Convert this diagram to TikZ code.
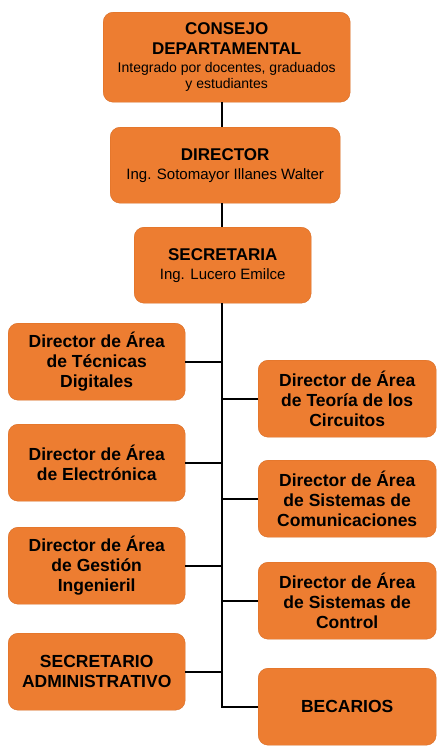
\documentclass[tikz,border=0pt]{standalone}
\usepackage{fontspec}
\setmainfont{Liberation Sans}
\usepackage{tikz}
\usetikzlibrary{calc,positioning}
\usepackage{xcolor}
\definecolor{bg0}{HTML}{FFFFFF}
\definecolor{boxfill}{HTML}{ED7D31}
\definecolor{boxline}{HTML}{D86C24}
\definecolor{fg}{HTML}{000000}
\newcommand{\branch}[2]{
  \draw[link] (#1.#2) -- (#1.#2 -| trunk-end);
}
\newcommand{\smalltxt}{\fontsize{15}{17}\selectfont\mdseries}
\newcommand{\tinytxt}{\fontsize{14}{16}\selectfont\mdseries}

\begin{document}
\begin{tikzpicture}[x=1pt, y=1pt,
  headnode/.style={
    rectangle,
    draw=boxline,
    fill=boxfill,
    rounded corners=10pt,
    align=center,
    inner sep=2pt,
    minimum height=76pt,
    font=\fontsize{17}{20}\selectfont\bfseries,
    text=fg
  },
  areanode/.style={
    rectangle,
    draw=boxline,
    fill=boxfill,
    rounded corners=10pt,
    align=center,
    inner sep=2pt,
    minimum width=177pt,
    minimum height=77pt,
    font=\fontsize{17.5}{20}\selectfont\bfseries,
    text=fg
  },
  link/.style={
    line width=2pt,
    fg
  }
  ]
  \useasboundingbox[fill=bg0] (0,0) rectangle (444,-756);

  % top of the chart
  \begin{scope}
    \node[anchor=north west, headnode, minimum width=247pt, minimum height=90pt] (consejo-title) at (103, -12)
      {CONSEJO\\ DEPARTAMENTAL\\[-2pt]
       \tinytxt Integrado por docentes, graduados\\[-4pt] \tinytxt y estudiantes};
    \node[anchor=north west, headnode, minimum width=230pt] (director-title) at (110, -127)
      {DIRECTOR\\[-1pt] \smalltxt Ing. Sotomayor Illanes Walter};
    \node[anchor=north west, headnode, minimum width=177pt] (secr-title) at (134, -227)
      {SECRETARIA\\[-1pt] \smalltxt Ing. Lucero Emilce};
  \end{scope}

  % left column
  \begin{scope}
    \node[anchor=north west, areanode] (area-tec) at (8, -323) {Director de Área\\ de Técnicas\\ Digitales};
    \node[anchor=north west, areanode] (area-elec) at (8, -424) {Director de Área\\ de Electrónica};
    \node[anchor=north west, areanode] (area-gest) at (8, -527) {Director de Área\\ de Gestión\\ Ingenieril};
    \node[anchor=north west, areanode] (secr-adm) at (8, -633) {SECRETARIO\\ ADMINISTRATIVO};
  \end{scope}

  % right column
  \begin{scope}
    \node[anchor=north west, areanode, minimum width=178pt] (area-teo) at (258, -360) {Director de Área\\ de Teoría de los\\ Circuitos};
    \node[anchor=north west, areanode, minimum width=178pt] (area-com) at (258, -460) {Director de Área\\ de Sistemas de\\ Comunicaciones};
    \node[anchor=north west, areanode, minimum width=178pt] (area-ctrl) at (258, -562) {Director de Área\\ de Sistemas de\\ Control};
    \node[anchor=north west, areanode, minimum width=178pt] (becarios) at (258, -668) {BECARIOS};
  \end{scope}

  \coordinate (trunk-end) at (222, -707);

  \draw[link] (consejo-title.south -| trunk-end) -- (director-title.north -| trunk-end);
  \draw[link] (director-title.south -| trunk-end) -- (secr-title.north -| trunk-end);
  \draw[link] (secr-title.south -| trunk-end) -- ([yshift=-1pt]trunk-end);

  \branch{area-tec}{east}
  \branch{area-elec}{east}
  \branch{area-gest}{east}
  \branch{secr-adm}{east}
  \branch{area-teo}{west}
  \branch{area-com}{west}
  \branch{area-ctrl}{west}
  \branch{becarios}{west}

\end{tikzpicture}
\end{document}
